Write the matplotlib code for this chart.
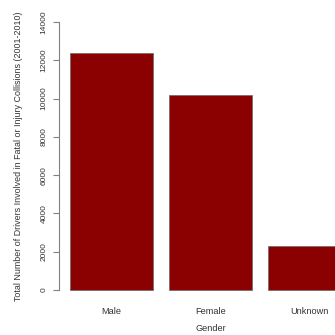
import matplotlib
matplotlib.use("Agg")
import matplotlib.pyplot as plt

# Drivers involved in fatal or injury collisions, 2001-2010, by gender
genders = ["Male", "Female", "Unknown"]
drivers = [12400, 10200, 2300]
y_ticks = [0, 2000, 4000, 6000, 8000, 10000, 12000, 14000]

plt.rcParams["font.family"] = ["Liberation Sans", "DejaVu Sans"]
text_color = "#333333"
axis_color = "#808080"

fig = plt.figure(figsize=(3.35, 3.35), dpi=100)
W = H = 335.0
# plot region in pixels (extends past the right edge of the canvas)
left_px, right_px, top_px, bottom_px = 59.0, 362.0, 11.3, 300.7
ax = fig.add_axes([left_px / W, 1 - bottom_px / H,
                   (right_px - left_px) / W, (bottom_px - top_px) / H])

# bars of width 1 separated by 0.2, as in a base-graphics barplot
space, width = 0.2, 1.0
lefts = [space + i * (width + space) for i in range(len(genders))]
centers = [l + width / 2 for l in lefts]
ax.bar(centers, drivers, width=width, color="#8B0000",
       edgecolor="#6a6a6a", linewidth=0.5)

span = lefts[-1] + width - lefts[0]
ax.set_xlim(lefts[0] - 0.04 * span, lefts[-1] + width + 0.04 * span)
ymax = y_ticks[-1]
ax.set_ylim(-0.04 * ymax, ymax * 1.04)

for s in ["top", "right", "bottom"]:
    ax.spines[s].set_visible(False)
ax.spines["left"].set_bounds(0, ymax)
ax.spines["left"].set_color(axis_color)
ax.spines["left"].set_linewidth(0.8)

ax.set_yticks(y_ticks)
ax.set_yticklabels([str(v) for v in y_ticks], rotation=90, va="center",
                   fontsize=6, color=text_color)
ax.tick_params(axis="y", length=4.3, width=0.8, color=axis_color, pad=4)

ax.set_xticks(centers)
ax.set_xticklabels(genders, fontsize=6.6, color=text_color)
ax.tick_params(axis="x", length=0, pad=4.2)

ax.set_xlabel("Gender", fontsize=6.6, color=text_color)
ax.xaxis.set_label_coords(0.5, -(324 - bottom_px) / (bottom_px - top_px))
ax.set_ylabel("Total Number of Drivers Involved in Fatal or Injury Collisions (2001-2010)",
              fontsize=6.4, color=text_color)
ax.yaxis.set_label_coords(-(59 - 23) / (right_px - left_px), 0.5)

fig.savefig("out.png", dpi=100, facecolor="white")
